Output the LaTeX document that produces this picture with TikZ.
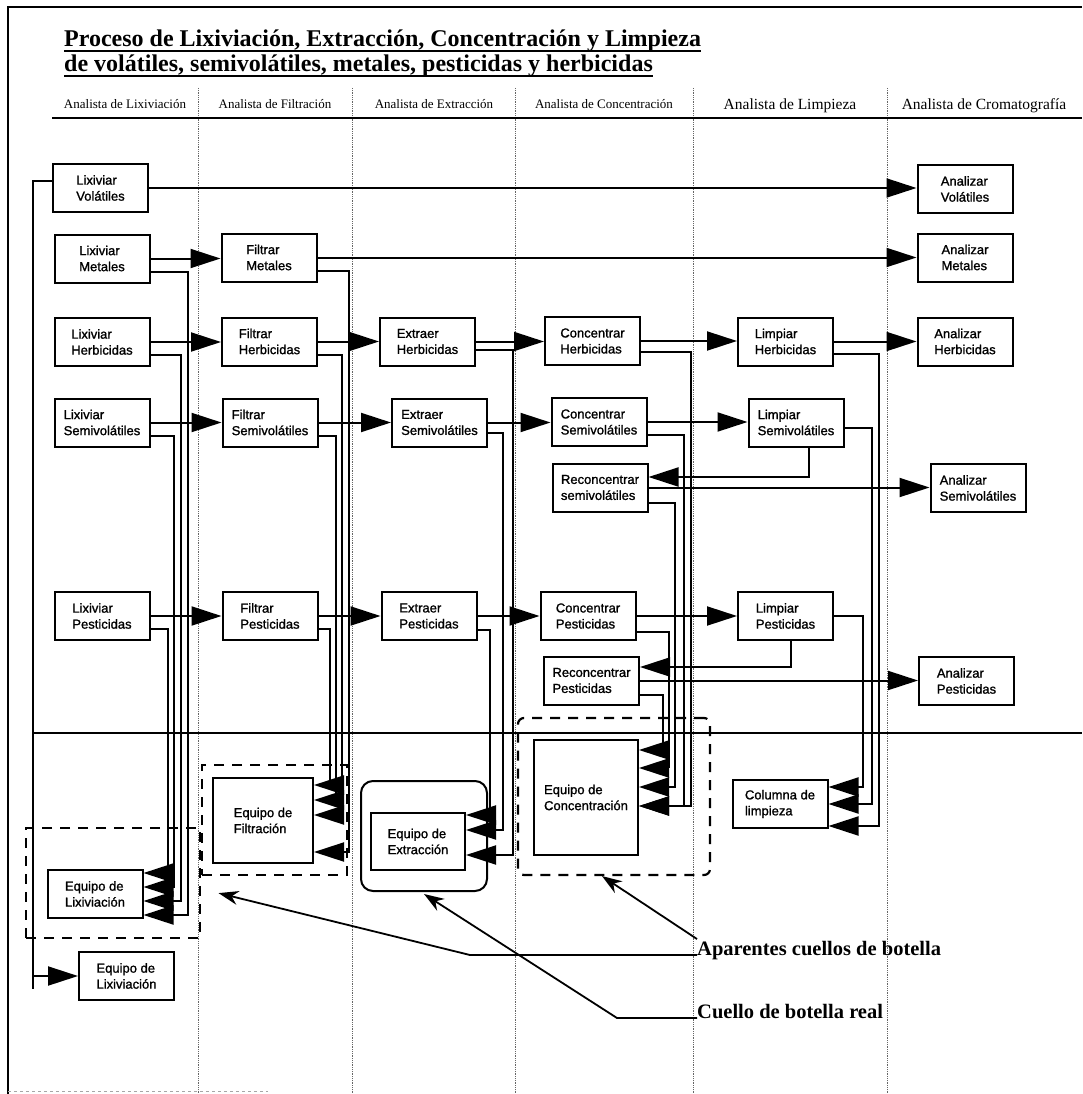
\documentclass[tikz,border=0pt]{standalone}
\usepackage{fontspec}
\setmainfont{Liberation Serif}
\newfontfamily\boxfont{Liberation Sans}[FakeBold=1.2]
\usetikzlibrary{arrows.meta}

\begin{document}
\begin{tikzpicture}[x=1pt,y=-1pt,
  box/.style={draw, line width=2pt, minimum width=95pt, minimum height=48pt,
    inner sep=2pt, align=left, font=\boxfont\fontsize{13}{16}\selectfont},
  conn/.style={line width=2pt},
  flow/.style={conn, -{Triangle[length=30pt,width=19pt]}},
  callout/.style={line width=1.8pt, -{Stealth[length=20pt,width=14pt]}},
  lane/.style={line width=0.8pt, black!60, densely dotted},
  dbox/.style={draw, line width=2.2pt, dash pattern=on 10pt off 8pt},
  hdr/.style={font=\fontsize{13}{15}\selectfont, anchor=base, inner sep=0pt},
  hdrL/.style={font=\fontsize{15.5}{18}\selectfont, anchor=base, inner sep=0pt},
  ttl/.style={anchor=base west, inner sep=0pt, font=\bfseries\fontsize{24}{24}\selectfont},
  note/.style={anchor=base west, inner sep=0pt, font=\bfseries\fontsize{20.5}{24}\selectfont},
]
\useasboundingbox (0,0) rectangle (1082,1094);

% frame
\draw[line width=2pt] (8,1094) -- (8,7) -- (1082,7);
\draw[line width=1pt, black!35, dashed] (8,1091) -- (268,1091);

% title
\node[ttl] (t1) at (64,47) {Proceso de Lixiviación, Extracción, Concentración y Limpieza};
\node[ttl] (t2) at (64,72) {de volátiles, semivolátiles, metales, pesticidas y herbicidas};
\draw[line width=1.6pt] ([yshift=-4pt]t1.base west) -- ([yshift=-4pt]t1.base east);
\draw[line width=1.6pt] ([yshift=-4pt]t2.base west) -- ([yshift=-4pt]t2.base east);

% swimlanes
\foreach \x in {198,352,515,693,887} \draw[lane] (\x,88) -- (\x,1094);
\node[hdr] (hLix) at (125,109) {Analista de Lixiviación};
\node[hdr] (hFil) at (275,109) {Analista de Filtración};
\node[hdr] (hExt) at (434,109) {Analista de Extracción};
\node[hdr] (hCon) at (604,109) {Analista de Concentración};
\node[hdrL] (hLim) at (790,110) {Analista de Limpieza};
\node[hdrL] (hCro) at (984,110) {Analista de Cromatografía};
\draw[line width=2.6pt] (52,118) -- (1082,118);
\draw[line width=1.6pt] (33,733) -- (1082,733);

% process steps
\node[box] (LV) at (100.5,188) {Lixiviar\\Volátiles};
\node[box] (LM) at (102,258.5) {Lixiviar\\Metales};
\node[box] (LH) at (102,342) {Lixiviar\\Herbicidas};
\node[box] (LS) at (102,422.5) {Lixiviar\\Semivolátiles};
\node[box] (LP) at (102,616) {Lixiviar\\Pesticidas};
\node[box] (FM) at (269,257.5) {Filtrar\\Metales};
\node[box] (FH) at (269.5,341.5) {Filtrar\\Herbicidas};
\node[box] (FS) at (270,422.5) {Filtrar\\Semivolátiles};
\node[box] (FP) at (270,616) {Filtrar\\Pesticidas};
\node[box] (EH) at (427.5,341.5) {Extraer\\Herbicidas};
\node[box] (ES) at (439.5,422.5) {Extraer\\Semivolátiles};
\node[box] (EP) at (429,616) {Extraer\\Pesticidas};
\node[box] (CH) at (592.5,341) {Concentrar\\Herbicidas};
\node[box] (CS) at (599,422) {Concentrar\\Semivolátiles};
\node[box] (RS) at (600,487.5) {Reconcentrar\\semivolátiles};
\node[box] (CP) at (588,616) {Concentrar\\Pesticidas};
\node[box] (RP) at (591.5,680.5) {Reconcentrar\\Pesticidas};
\node[box] (LiH) at (785.5,341.5) {Limpiar\\Herbicidas};
\node[box] (LiS) at (796,422.5) {Limpiar\\Semivolátiles};
\node[box] (LiP) at (785.5,616) {Limpiar\\Pesticidas};
\node[box] (AV) at (965,189) {Analizar\\Volátiles};
\node[box] (AM) at (965,257.5) {Analizar\\Metales};
\node[box] (AH) at (965,341.5) {Analizar\\Herbicidas};
\node[box] (AS) at (978,488) {Analizar\\Semivolátiles};
\node[box] (AP) at (966.5,681) {Analizar\\Pesticidas};

% equipment groups
\node[dbox, minimum width=174pt, minimum height=110pt] (lixBN) at (113,883) {};
\node[dbox, minimum width=145pt, minimum height=110pt] (filtBN) at (274.5,820) {};
\node[draw, line width=2pt, rounded corners=12pt, minimum width=126pt, minimum height=110pt] (extBN) at (424,836) {};
\node[dbox, rounded corners=6pt, minimum width=192pt, minimum height=157pt] (concBN) at (614,796.5) {};

% equipment
\node[box] (EqL) at (95,894) {Equipo de\\Lixiviación};
\node[box] (EqL2) at (126.5,976) {Equipo de\\Lixiviación};
\node[box, minimum width=100pt, minimum height=85pt] (EqF) at (263,820.5) {Equipo de\\Filtración};
\node[box, minimum width=94pt, minimum height=57pt] (EqE) at (418,841.5) {Equipo de\\Extracción};
\node[box, minimum width=104pt, minimum height=115pt] (EqC) at (586,797.5) {Equipo de\\Concentración};
\node[box] (EqLim) at (780,804) {Columna de\\limpieza};

% leaching
\coordinate (trunk) at (33,989);
\draw[conn] ([yshift=7pt]LV.west) -| (trunk);
\draw[flow] (EqL2.west -| trunk) -- (EqL2.west);
\draw[flow] (LV.east) -- (LV.east -| AV.west);
\draw[flow] (LM.east) -- (LM.east -| FM.west);
\draw[flow] (LH.east) -- (LH.east -| FH.west);
\draw[flow] (LS.east) -- (LS.east -| FS.west);
\draw[flow] (LP.east) -- (LP.east -| FP.west);
\draw[flow] ([yshift=-13pt]LM.east) -- ++(37,0) |- ([yshift=-21pt]EqL.east);
\draw[flow] ([yshift=-13pt]LH.east) -- ++(30,0) |- ([yshift=-7pt]EqL.east);
\draw[flow] ([yshift=-13pt]LS.east) -- ++(23,0) |- ([yshift=7pt]EqL.east);
\draw[flow] ([yshift=-13pt]LP.east) -- ++(17,0) |- ([yshift=21pt]EqL.east);

% filtration
\draw[flow] (FM.east) -- (FM.east -| AM.west);
\draw[flow] (FH.east) -- (FH.east -| EH.west);
\draw[flow] (FS.east) -- (FS.east -| ES.west);
\draw[flow] (FP.east) -- (FP.east -| EP.west);
\draw[flow] ([yshift=-13pt]FM.east) -- ++(31,0) |- ([yshift=-31.5pt]EqF.east);
\draw[flow] ([yshift=-13pt]FH.east) -- ++(24,0) |- ([yshift=5.5pt]EqF.east);
\draw[flow] ([yshift=-13pt]FS.east) -- ++(17,0) |- ([yshift=20.5pt]EqF.east);
\draw[flow] ([yshift=-13pt]FP.east) -- ++(11,0) |- ([yshift=35.5pt]EqF.east);

% extraction
\draw[flow] (EH.east) -- (EH.east -| CH.west);
\draw[flow] (ES.east) -- (ES.east -| CS.west);
\draw[flow] (EP.east) -- (EP.east -| CP.west);
\draw[flow] ([yshift=-8pt]EH.east) -- ++(37,0) |- ([yshift=-13.5pt]EqE.east);
\draw[flow] ([yshift=-10pt]ES.east) -- ++(15,0) |- ([yshift=11.5pt]EqE.east);
\draw[flow] ([yshift=-14pt]EP.east) -- ++(12,0) |- ([yshift=26.5pt]EqE.east);

% concentration
\draw[flow] (CH.east) -- (CH.east -| LiH.west);
\draw[flow] (CS.east) -- (CS.east -| LiS.west);
\draw[flow] (CP.east) -- (CP.east -| LiP.west);
\draw[flow] (RS.east) -- (RS.east -| AS.west);
\draw[flow] (RP.east) -- (RP.east -| AP.west);
\draw[flow] ([yshift=-11pt]CH.east) -- ++(50,0) |- ([yshift=-8.5pt]EqC.east);
\draw[flow] ([yshift=-13pt]CS.east) -- ++(36,0) |- ([yshift=-8.5pt]EqC.east);
\draw[flow] ([yshift=-15pt]RS.east) -- ++(26,0) |- ([yshift=10.5pt]EqC.east);
\draw[flow] ([yshift=-16pt]CP.east) -- ++(32,0) |- ([yshift=29.5pt]EqC.east);
\draw[flow] ([yshift=-14.5pt]RP.east) -- ++(23,0) |- ([yshift=47.5pt]EqC.east);

% cleaning
\draw[flow] (LiH.east) -- (LiH.east -| AH.west);
\draw[flow] ([yshift=-12pt]LiH.east) -- ++(45,0) |- ([yshift=-22pt]EqLim.east);
\draw[flow] ([yshift=-5pt]LiS.east) -- ++(27,0) |- (EqLim.east);
\draw[flow] (LiP.east) -- ++(29,0) |- ([yshift=17pt]EqLim.east);
\draw[flow] ([xshift=13pt]LiS.south) |- ([yshift=10.5pt]RS.east);
\draw[flow] ([xshift=5pt]LiP.south) |- ([yshift=13.5pt]RP.east);

% bottleneck notes
\node[note] (apar) at (697,955) {Aparentes cuellos de botella};
\node[note] (real) at (697,1018) {Cuello de botella real};
\draw[callout] ([yshift=16pt]apar.base west) -- ([xshift=-12pt]concBN.south);
\draw[callout] (apar.base west) -- ++(-227,0) -- ([xshift=-56pt,yshift=-17pt]filtBN.south);
\draw[callout] (real.base west) -- ++(-80,0) -- ([yshift=-2pt]extBN.south);
\end{tikzpicture}
\end{document}
